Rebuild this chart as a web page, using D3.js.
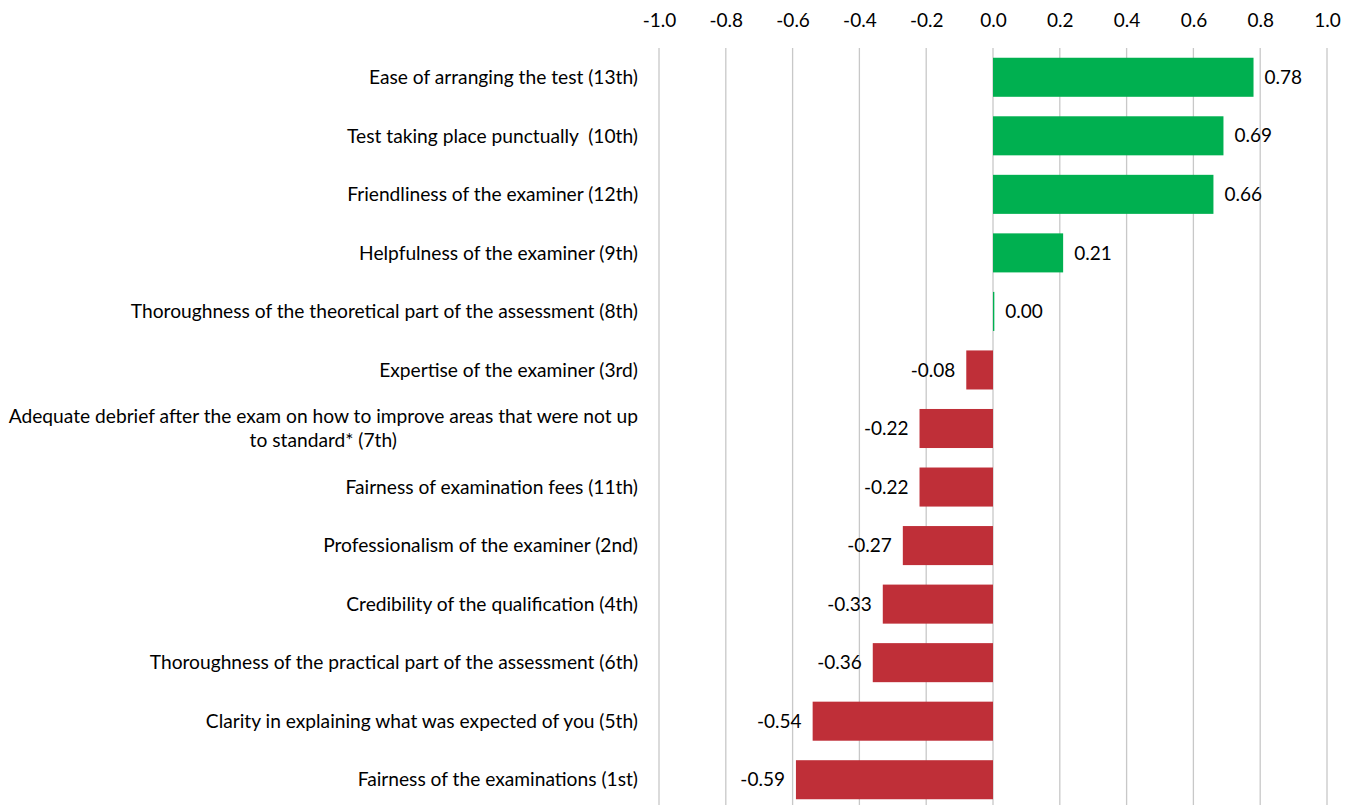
<!DOCTYPE html>
<html>
<head>
<meta charset="utf-8">
<script src="https://cdn.jsdelivr.net/npm/d3@7"></script>
<style>
  body { margin: 0; background: #fff; }
  text { font-family: Lato, "Open Sans", sans-serif; fill: #000; white-space: pre; }
</style>
</head>
<body>
<script>
// categories, top to bottom
var categories = [
  ["Ease of arranging the test (13th)"],
  ["Test taking place punctually  (10th)"],
  ["Friendliness of the examiner (12th)"],
  ["Helpfulness of the examiner (9th)"],
  ["Thoroughness of the theoretical part of the assessment (8th)"],
  ["Expertise of the examiner (3rd)"],
  ["Adequate debrief after the exam on how to improve areas that were not up", "to standard* (7th)"],
  ["Fairness of examination fees (11th)"],
  ["Professionalism of the examiner (2nd)"],
  ["Credibility of the qualification (4th)"],
  ["Thoroughness of the practical part of the assessment (6th)"],
  ["Clarity in explaining what was expected of you (5th)"],
  ["Fairness of the examinations (1st)"]
];
var values = [0.78, 0.69, 0.66, 0.21, 0.004, -0.08, -0.22, -0.22, -0.27, -0.33, -0.36, -0.54, -0.59];
var tickValues = [-1.0, -0.8, -0.6, -0.4, -0.2, 0.0, 0.2, 0.4, 0.6, 0.8, 1.0];

var width = 1356, height = 805;

var svg = d3.select("body").append("svg")
    .attr("width", width)
    .attr("height", height);

var x = d3.scaleLinear()
    .domain([-1, 1])
    .range([659, 1327]);

var y = d3.scaleBand()
    .domain(d3.range(values.length))
    .range([48, 809])
    .paddingInner(0.333)
    .paddingOuter(0.1665);

// gridlines
svg.selectAll(".grid")
    .data(tickValues)
  .enter().append("line")
    .attr("class", "grid")
    .attr("x1", function(d) { return x(d); })
    .attr("x2", function(d) { return x(d); })
    .attr("y1", 48)
    .attr("y2", height)
    .attr("stroke", "#c8c8c8")
    .attr("stroke-width", 1.3);

// top axis labels (plain hyphen like the original)
var axis = d3.axisTop(x)
    .tickValues(tickValues)
    .tickFormat(function(d) { return d.toFixed(1); })
    .tickSize(0)
    .tickPadding(0);
var ax = svg.append("g")
    .attr("transform", "translate(0,27)")
    .call(axis);
ax.select(".domain").remove();
ax.selectAll("text")
    .style("font-size", "19px")
    .style("font-family", "Lato, 'Open Sans', sans-serif")
    .attr("fill", "#000");

// bars
svg.selectAll(".bar")
    .data(values)
  .enter().append("rect")
    .attr("class", "bar")
    .attr("x", function(d) { return x(Math.min(0, d)); })
    .attr("width", function(d) { return Math.abs(x(d) - x(0)); })
    .attr("y", function(d, i) { return y(i); })
    .attr("height", y.bandwidth())
    .attr("fill", function(d) { return d >= 0 ? "#00b050" : "#bf2f38"; });

// value labels
svg.selectAll(".val")
    .data(values)
  .enter().append("text")
    .attr("class", "val")
    .attr("x", function(d) { return d >= 0 ? x(d) + 11 : x(d) - 11; })
    .attr("y", function(d, i) { return y(i) + y.bandwidth() / 2; })
    .attr("dy", "0.35em")
    .attr("text-anchor", function(d) { return d >= 0 ? "start" : "end"; })
    .style("font-size", "19px")
    .text(function(d) { return d.toFixed(2); });

// category labels, wrapped ones centred under their first line
var labelRight = 638;
var cat = svg.selectAll(".cat")
    .data(categories)
  .enter().append("text")
    .attr("class", "cat")
    .style("font-size", "19.2px")
    .attr("y", function(d, i) { return y(i) + y.bandwidth() / 2 - (d.length - 1) * 12; });

cat.each(function(d) {
  var t = d3.select(this);
  var first = t.append("tspan")
    .attr("x", labelRight)
    .attr("text-anchor", "end")
    .attr("dy", "0.35em")
    .text(d[0]);
  var mid = labelRight - first.node().getComputedTextLength() / 2;
  d.slice(1).forEach(function(line) {
    t.append("tspan")
      .attr("x", mid)
      .attr("text-anchor", "middle")
      .attr("dy", "24px")
      .text(line);
  });
});
</script>
</body>
</html>
